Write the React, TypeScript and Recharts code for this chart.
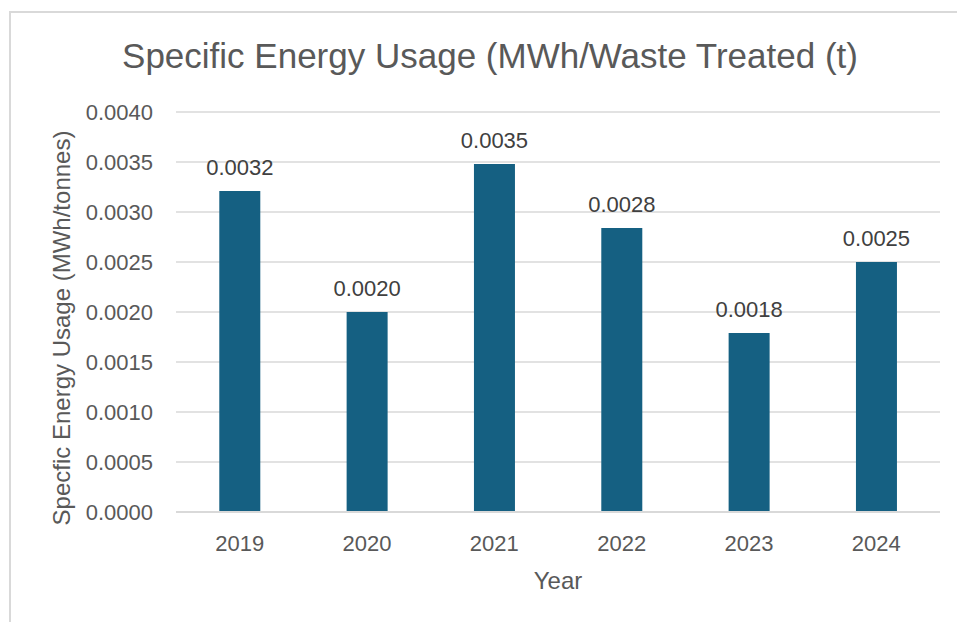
import { Bar, BarChart, CartesianGrid, LabelList, XAxis, YAxis } from 'recharts';

const years = ['2019', '2020', '2021', '2022', '2023', '2024'];
const energyPerTonne = [0.00321, 0.002, 0.00348, 0.00284, 0.00179, 0.0025];
const yTicks = [0, 0.0005, 0.001, 0.0015, 0.002, 0.0025, 0.003, 0.0035, 0.004];

const data = years.map((year, i) => ({ year, value: energyPerTonne[i] }));

const font = '"Liberation Sans", Arial, sans-serif';
const grey = '#595959';

export default function App() {
  return (
    <div
      style={{
        position: 'absolute',
        left: 0,
        top: 0,
        width: 957,
        height: 622,
        background: '#fff',
        overflow: 'hidden',
        fontFamily: font,
      }}
    >
      <div
        style={{
          position: 'absolute',
          left: 9,
          top: 11,
          width: 1000,
          height: 700,
          borderLeft: '2px solid #d9d9d9',
          borderTop: '2px solid #d9d9d9',
        }}
      />
      <div
        style={{
          position: 'absolute',
          left: 0,
          width: 980,
          top: 36,
          textAlign: 'center',
          fontSize: 35,
          color: grey,
        }}
      >
        Specific Energy Usage (MWh/Waste Treated (t)
      </div>
      <div
        style={{
          position: 'absolute',
          left: 62,
          top: 328,
          transform: 'translate(-50%, -50%) rotate(-90deg)',
          whiteSpace: 'nowrap',
          fontSize: 24,
          color: grey,
        }}
      >
        Specfic Energy Usage (MWh/tonnes)
      </div>
      <div
        style={{
          position: 'absolute',
          left: 558,
          top: 581,
          transform: 'translate(-50%, -50%)',
          fontSize: 24,
          color: grey,
        }}
      >
        Year
      </div>
      <div style={{ position: 'absolute', left: 0, top: 0 }}>
        <BarChart
          width={957}
          height={622}
          data={data}
          margin={{ top: 112, right: 17, bottom: 70, left: 86 }}
          barCategoryGap="34%"
        >
          <CartesianGrid vertical={false} stroke="#d9d9d9" strokeWidth={1.5} />
          <XAxis
            dataKey="year"
            height={40}
            tickLine={false}
            tickSize={0}
            tickMargin={23}
            axisLine={{ stroke: '#d9d9d9', strokeWidth: 2 }}
            tick={{ fill: grey, fontSize: 22, fontFamily: font }}
          />
          <YAxis
            width={90}
            domain={[0, 0.004]}
            ticks={yTicks}
            interval={0}
            tickLine={false}
            tickSize={0}
            axisLine={false}
            tickMargin={23}
            tickFormatter={(v: number) => v.toFixed(4)}
            tick={{ fill: grey, fontSize: 22, fontFamily: font }}
          />
          <Bar dataKey="value" fill="#156082" isAnimationActive={false}>
            <LabelList
              dataKey="value"
              position="top"
              offset={16}
              formatter={(v: number) => v.toFixed(4)}
              style={{ fill: '#404040', fontSize: 22, fontFamily: font }}
            />
          </Bar>
        </BarChart>
      </div>
    </div>
  );
}
